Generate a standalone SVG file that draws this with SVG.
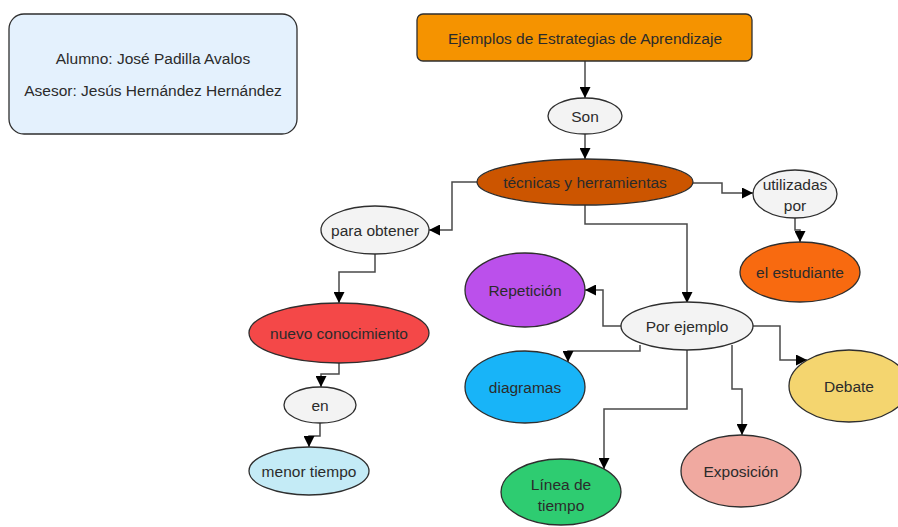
<svg xmlns="http://www.w3.org/2000/svg" width="898" height="527" viewBox="0 0 898 527">
<style>
text{font-family:"Liberation Sans",Arial,sans-serif;font-size:15.5px;fill:#2b2b2b;text-anchor:middle;dominant-baseline:central}
.n{stroke:#2e2e2e;stroke-width:1.3}
.c{fill:none;stroke:#4a4a4a;stroke-width:1.5;marker-end:url(#a)}
</style>
<defs>
<marker id="a" viewBox="0 0 10 10" refX="10" refY="5" markerWidth="11" markerHeight="11" markerUnits="userSpaceOnUse" orient="auto">
<path d="M0,0 L10,5 L0,10 z" fill="#000"/>
</marker>
</defs>
<rect width="898" height="527" fill="#fff"/>
<g id="connectors">
<path class="c" d="M585,61 V98"/>
<path class="c" d="M585,134 V159"/>
<path class="c" d="M693,183 H722 V193 H753"/>
<path class="c" d="M795,218 V230 H800 V242"/>
<path class="c" d="M477,182 H452 V230 H429"/>
<path class="c" d="M375,254 V272 H339 V303"/>
<path class="c" d="M339,363 V374 H321 V387"/>
<path class="c" d="M320,423 V436 H309 V447"/>
<path class="c" d="M585,205 V224 H687 V303"/>
<path class="c" d="M621,326 H603 V290 H585"/>
<path class="c" d="M640,345 V351 H568 V362"/>
<path class="c" d="M687,350 V409 H604 V469"/>
<path class="c" d="M732,345 V389 H742 V435"/>
<path class="c" d="M753,326 H780 V360 H807"/>
</g>
<g id="info"><rect class="n" x="9" y="14" width="288" height="120" rx="15" fill="#e4f1fd"/><text x="153" y="58">Alumno: José Padilla Avalos</text><text x="153" y="90">Asesor: Jesús Hernández Hernández</text></g>
<g id="title"><rect class="n" x="417" y="14" width="335" height="47" rx="6" fill="#f59300"/><text x="585" y="38">Ejemplos de Estrategias de Aprendizaje</text></g>
<g id="son"><ellipse class="n" cx="585" cy="116" rx="37" ry="18" fill="#f3f3f3"/><text x="585" y="116">Son</text></g>
<g id="tecnicas"><ellipse class="n" cx="585" cy="182" rx="108" ry="23" fill="#cc5500"/><text x="585" y="182">técnicas y herramientas</text></g>
<g id="utilizadas"><ellipse class="n" cx="795" cy="194" rx="42" ry="24" fill="#f3f3f3"/><text x="795" y="184">utilizadas</text><text x="795" y="205">por</text></g>
<g id="estudiante"><ellipse class="n" cx="800" cy="272" rx="60" ry="30" fill="#f86a10"/><text x="800" y="272">el estudiante</text></g>
<g id="obtener"><ellipse class="n" cx="375" cy="230" rx="54" ry="24" fill="#f3f3f3"/><text x="375" y="230">para obtener</text></g>
<g id="nuevo"><ellipse class="n" cx="339" cy="333" rx="90" ry="30" fill="#f44848"/><text x="339" y="333">nuevo conocimiento</text></g>
<g id="en"><ellipse class="n" cx="320" cy="405" rx="36" ry="18" fill="#f3f3f3"/><text x="320" y="405">en</text></g>
<g id="menor"><ellipse class="n" cx="309" cy="471" rx="60" ry="24" fill="#c4ebf6"/><text x="309" y="471">menor tiempo</text></g>
<g id="porejemplo"><ellipse class="n" cx="687" cy="326" rx="66" ry="24" fill="#f3f3f3"/><text x="687" y="326">Por ejemplo</text></g>
<g id="repeticion"><ellipse class="n" cx="525" cy="290" rx="60" ry="37" fill="#bb50eb"/><text x="525" y="290">Repetición</text></g>
<g id="diagramas"><ellipse class="n" cx="525" cy="387" rx="60" ry="36" fill="#18b4f8"/><text x="525" y="387">diagramas</text></g>
<g id="linea"><ellipse class="n" cx="561" cy="492" rx="60" ry="33" fill="#2ecc71"/><text x="561" y="484">Línea de</text><text x="561" y="505">tiempo</text></g>
<g id="exposicion"><ellipse class="n" cx="741" cy="471" rx="60" ry="36" fill="#f0a9a0"/><text x="741" y="471">Exposición</text></g>
<g id="debate"><ellipse class="n" cx="849" cy="386" rx="60" ry="36" fill="#f4d56f"/><text x="849" y="386">Debate</text></g>
</svg>
